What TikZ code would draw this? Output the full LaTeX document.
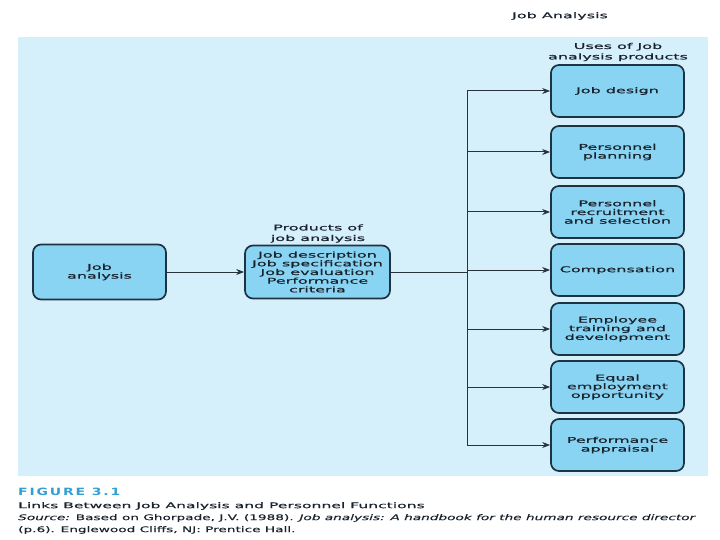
\documentclass[tikz,border=0pt]{standalone}
\usepackage{fontspec}
\setmainfont[FakeStretch=2,FakeBold=0.8]{DejaVu Sans}
\newfontfamily\srcfont[FakeStretch=1.75,FakeBold=0.4]{DejaVu Sans}
\newfontfamily\figfont[FakeStretch=1.4,LetterSpace=18]{DejaVu Sans}
\usetikzlibrary{arrows.meta}
\definecolor{panel}{RGB}{214,240,251}
\definecolor{boxfill}{RGB}{138,212,243}
\definecolor{boxline}{RGB}{28,52,66}
\definecolor{txt}{RGB}{25,35,45}
\definecolor{lin}{RGB}{40,50,58}
\definecolor{figblue}{RGB}{52,160,210}
\tikzset{
  box/.style={draw=boxline, line width=1.7pt, fill=boxfill, rounded corners=8pt,
    minimum width=133pt, minimum height=52pt, align=center, inner sep=1pt,
    text=txt, font=\fontsize{8}{8.7}\selectfont},
  lbl/.style={align=center, inner sep=0pt, text=txt, font=\fontsize{8}{10.5}\selectfont},
  conn/.style={draw=lin, line width=1pt},
  arr/.style={conn, -{Stealth[length=8pt,width=6pt]}}
}
\begin{document}
\begin{tikzpicture}[x=1pt,y=-1pt]
\useasboundingbox (0,0) rectangle (720,540);
\fill[panel] (18,37) rectangle (708,476);

\node[lbl] (ttl) at (560,16) {Job Analysis};
\node[lbl] (usl) at (618,52) {Uses of Job\\analysis products};
\node[lbl] (prl) at (318,233.5) {Products of\\job analysis};

\node[box, minimum height=55pt] (ja) at (99.5,272) {Job\\analysis};
\node[box, minimum width=145pt, minimum height=53pt] (pr) at (317.5,272) {Job description\\Job specification\\Job evaluation\\Performance\\criteria};

\node[box] (jd) at (617.5,91) {Job design};
\node[box] (pp) at (617.5,152) {Personnel\\planning};
\node[box] (rs) at (617.5,212) {Personnel\\recruitment\\and selection};
\node[box] (cp) at (617.5,270) {Compensation};
\node[box] (td) at (617.5,329) {Employee\\training and\\development};
\node[box] (eo) at (617.5,387) {Equal\\employment\\opportunity};
\node[box] (pa) at (617.5,445) {Performance\\appraisal};

\coordinate (jn) at (467,272);
\draw[arr] (ja.east) -- (pr.west);
\draw[conn] (pr.east) -- (jn);
\foreach \b in {jd,pp,rs,cp,td,eo,pa}{
  \draw[arr] (jn) |- (\b.west);
}

\node[anchor=west, inner sep=0pt, text=figblue, font=\figfont\bfseries\fontsize{10}{11}\selectfont] (fig) at (18,492) {FIGURE 3.1};
\node[anchor=west, inner sep=0pt, text=txt, font=\fontsize{7.8}{8}\selectfont] (links) at (18,506) {Links Between Job Analysis and Personnel Functions};
\node[anchor=north west, inner sep=0pt, align=left, text=txt, font=\srcfont\fontsize{7.8}{12}\selectfont] (src) at (18,514) {\textit{Source:} Based on Ghorpade, J.V. (1988). \textit{Job analysis: A handbook for the human resource director}\\(p.6). Englewood Cliffs, NJ: Prentice Hall.};
\end{tikzpicture}
\end{document}
